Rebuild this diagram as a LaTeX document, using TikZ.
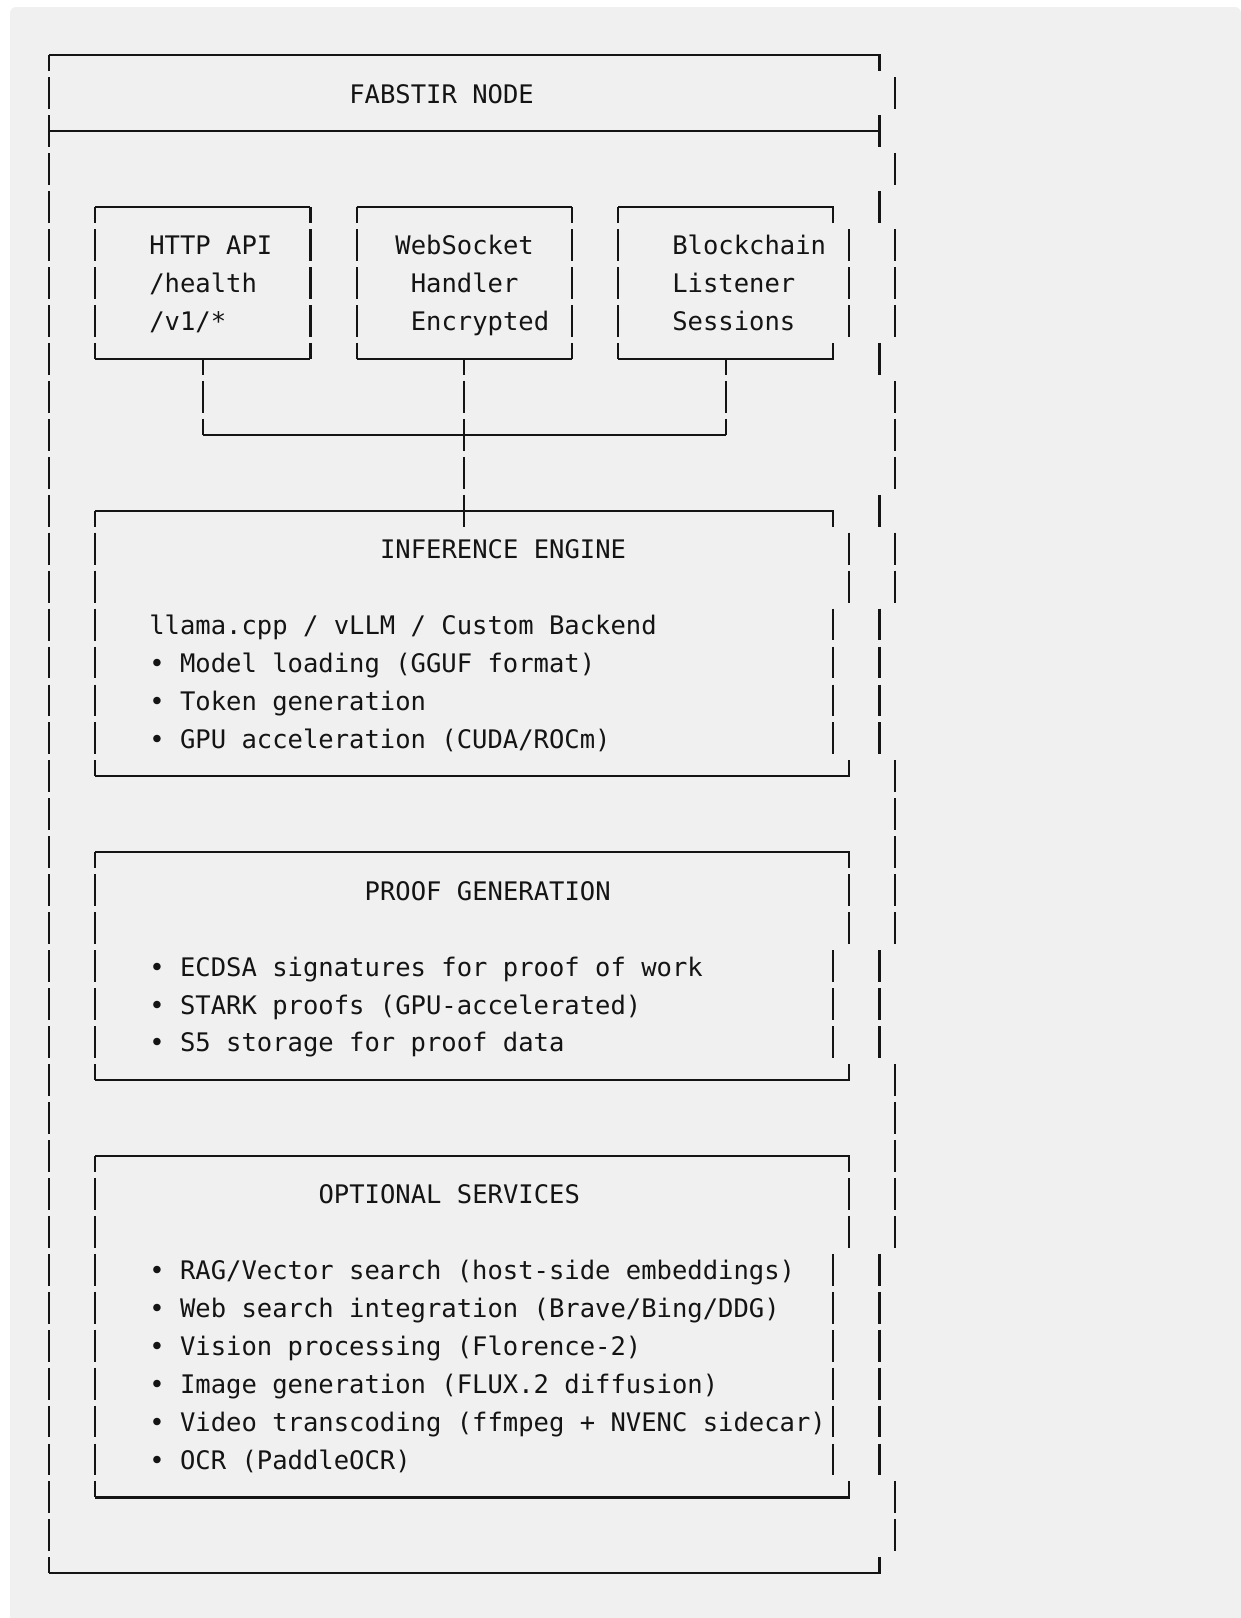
\documentclass[tikz,border=0pt]{standalone}
\usepackage{fontspec}
\newfontfamily\codefont{DejaVu Sans Mono}
\definecolor{inkc}{HTML}{141414}
\definecolor{panel}{HTML}{F0F0F0}
\begin{document}
\begin{tikzpicture}[x=0.5pt,y=-0.5pt]
% page frame and code-block panel
\useasboundingbox (0,0) rectangle (1241,1618);
\fill[panel, rounded corners=3pt] (10,7) rectangle (1241,1660);
% character grid: one x unit = one column, one y unit = one text row
\begin{scope}[shift={(24.5pt,-27.65pt)}, x=7.69pt, y=-18.975pt,
  rule/.style={draw=inkc, line width=1.1pt},
  rows/.style={rule, dash pattern=on 15.94pt off 3.035pt, dash phase=7.97pt},
  txt/.style={anchor=base west, inner sep=0pt, text=inkc,
    font={\codefont\fontsize{12.77pt}{15pt}\selectfont}}]

% ---------- outer frame: FABSTIR NODE ----------
\draw[rule] (0,0) -- (54,0) -- (54,0.42);
\draw[rule] (0,2) -- (54,2);
\draw[rule] (54,1.58) -- (54,2.42);
\draw[rule] (0,40) -- (54,40) -- (54,39.58);
\draw[rows] (0,0) -- (0,40);
\foreach \r/\c in {1/55,3/55,4/54,5/55,6/55,7/55,8/54,9/55,10/55,11/55,
                   12/54,13/55,14/55,15/54,16/54,17/54,18/54,19/55,20/55,
                   21/55,22/55,23/55,24/54,25/54,26/54,27/55,28/55,29/55,
                   30/55,31/55,32/54,33/54,34/54,35/54,36/54,37/54,38/55,39/55}
  \draw[rule] (\c,\r-0.42) -- (\c,\r+0.42);
\node[txt] (title) at (19.5,1.262) {FABSTIR NODE};

% ---------- front-end boxes ----------
% HTTP API
\draw[rule] (3,4) -- (17,4);
\draw[rule] (3,8) -- (17,8);
\draw[rows] (3,4) -- (3,8);
\draw[rows] (17,4) -- (17,8);
\node[txt] (http1) at (6.5,5.262) {HTTP API};
\node[txt] (http2) at (6.5,6.262) {/health};
\node[txt] (http3) at (6.5,7.262) {/v1/*};
% WebSocket
\draw[rule] (20,4) -- (34,4);
\draw[rule] (20,8) -- (34,8);
\draw[rows] (20,4) -- (20,8);
\draw[rows] (34,4) -- (34,8);
\node[txt] (ws1) at (22.5,5.262) {WebSocket};
\node[txt] (ws2) at (23.5,6.262) {Handler};
\node[txt] (ws3) at (23.5,7.262) {Encrypted};
% Blockchain
\draw[rule] (37,4) -- (51,4) -- (51,4.42);
\draw[rule] (37,8) -- (51,8) -- (51,7.58);
\draw[rows] (37,4) -- (37,8);
\foreach \r in {5,6,7} \draw[rule] (52,\r-0.42) -- (52,\r+0.42);
\node[txt] (bc1) at (40.5,5.262) {Blockchain};
\node[txt] (bc2) at (40.5,6.262) {Listener};
\node[txt] (bc3) at (40.5,7.262) {Sessions};

% ---------- connectors into the engine ----------
\coordinate (httpS) at (10,8);
\coordinate (httpJ) at (10,10);
\coordinate (wsS)   at (27,8);
\coordinate (engIn) at (27,12.42);
\coordinate (bcS)   at (44,8);
\coordinate (bcJ)   at (44,10);
\draw[rows] (httpS) -- (httpJ);
\draw[rows] (bcS) -- (bcJ);
\draw[rule] (httpJ) -- (bcJ);
\draw[rows] (wsS) -- (engIn);

% ---------- INFERENCE ENGINE ----------
\draw[rule] (3,12) -- (51,12) -- (51,12.42);
\draw[rule] (3,19) -- (52,19) -- (52,18.58);
\draw[rows] (3,12) -- (3,19);
\foreach \r/\c in {13/52,14/52,15/51,16/51,17/51,18/51}
  \draw[rule] (\c,\r-0.42) -- (\c,\r+0.42);
\node[txt] (eng)  at (21.5,13.262) {INFERENCE ENGINE};
\node[txt] (eng1) at (6.5,15.262) {llama.cpp / vLLM / Custom Backend};
\node[txt] (eng2) at (6.5,16.262) {• Model loading (GGUF format)};
\node[txt] (eng3) at (6.5,17.262) {• Token generation};
\node[txt] (eng4) at (6.5,18.262) {• GPU acceleration (CUDA/ROCm)};

% ---------- PROOF GENERATION ----------
\draw[rule] (3,21) -- (52,21) -- (52,21.42);
\draw[rule] (3,27) -- (52,27) -- (52,26.58);
\draw[rows] (3,21) -- (3,27);
\foreach \r/\c in {22/52,23/52,24/51,25/51,26/51}
  \draw[rule] (\c,\r-0.42) -- (\c,\r+0.42);
\node[txt] (prf)  at (20.5,22.262) {PROOF GENERATION};
\node[txt] (prf1) at (6.5,24.262) {• ECDSA signatures for proof of work};
\node[txt] (prf2) at (6.5,25.262) {• STARK proofs (GPU-accelerated)};
\node[txt] (prf3) at (6.5,26.262) {• S5 storage for proof data};

% ---------- OPTIONAL SERVICES ----------
\draw[rule] (3,29) -- (52,29) -- (52,29.42);
\draw[rule] (3,38) -- (52,38) -- (52,37.58);
\draw[rows] (3,29) -- (3,38);
\foreach \r/\c in {30/52,31/52,32/51,33/51,34/51,35/51,36/51,37/51}
  \draw[rule] (\c,\r-0.42) -- (\c,\r+0.42);
\node[txt] (opt)  at (17.5,30.262) {OPTIONAL SERVICES};
\node[txt] (opt1) at (6.5,32.262) {• RAG/Vector search (host-side embeddings)};
\node[txt] (opt2) at (6.5,33.262) {• Web search integration (Brave/Bing/DDG)};
\node[txt] (opt3) at (6.5,34.262) {• Vision processing (Florence-2)};
\node[txt] (opt4) at (6.5,35.262) {• Image generation (FLUX.2 diffusion)};
\node[txt] (opt5) at (6.5,36.262) {• Video transcoding (ffmpeg + NVENC sidecar)};
\node[txt] (opt6) at (6.5,37.262) {• OCR (PaddleOCR)};
\end{scope}
\end{tikzpicture}
\end{document}
